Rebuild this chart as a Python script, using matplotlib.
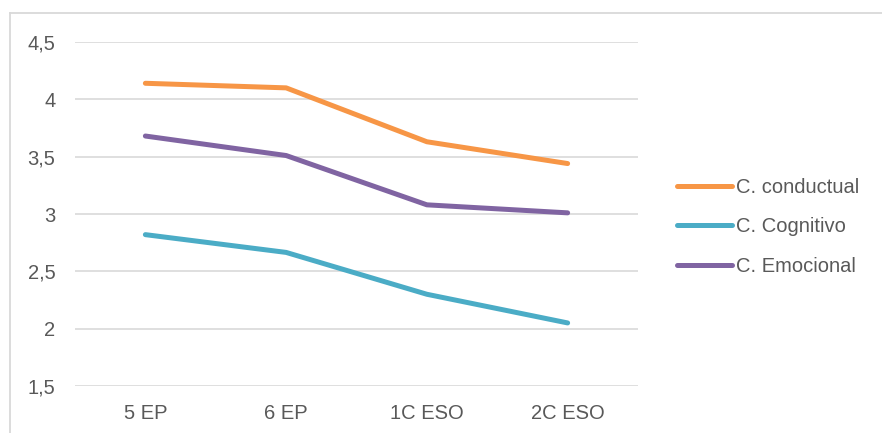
import matplotlib
matplotlib.use("Agg")
import matplotlib.pyplot as plt
from matplotlib.lines import Line2D

plt.rcParams['font.family'] = ['Liberation Sans', 'DejaVu Sans']

categories = ["5 EP", "6 EP", "1C ESO", "2C ESO"]
conductual = [4.14, 4.10, 3.63, 3.44]
cognitivo = [2.82, 2.665, 2.30, 2.05]
emocional = [3.68, 3.51, 3.08, 3.01]
series_names = ["C. conductual", "C. Cognitivo", "C. Emocional"]
yticks = [1.5, 2.0, 2.5, 3.0, 3.5, 4.0, 4.5]
ytick_labels = ["1,5", "2", "2,5", "3", "3,5", "4", "4,5"]

colors = ["#F79646", "#4BACC6", "#8064A2"]
text_color = "#595959"
grid_color = "#D9D9D9"
fs = 14.5

W, H = 882, 433
fig = plt.figure(figsize=(W / 100, H / 100), dpi=100)
ax = fig.add_axes([75 / W, 1 - 386 / H, (638 - 75) / W, (386 - 42) / H])

x = list(range(len(categories)))
for vals, name, c in zip([conductual, cognitivo, emocional], series_names, colors):
    ax.plot(x, vals, color=c, lw=3.6, solid_capstyle='round',
            solid_joinstyle='round', label=name)

ax.set_xlim(-0.5, len(categories) - 0.5)
ax.set_ylim(1.5, 4.5)
ax.set_yticks(yticks)
ax.set_yticklabels(ytick_labels)
ax.set_xticks(x)
ax.set_xticklabels(categories)
ax.tick_params(axis='x', length=0, labelsize=fs, colors=text_color, pad=13)
ax.tick_params(axis='y', length=0, labelsize=fs, colors=text_color, pad=14)
ax.grid(axis='y', color=grid_color, lw=1.2)
ax.set_axisbelow(True)
for s in ax.spines.values():
    s.set_visible(False)

handles = [Line2D([], [], color=c, lw=3.6, solid_capstyle='round') for c in colors]
fig.legend(handles, series_names, loc='center left',
           bbox_to_anchor=(677 / W, 1 - 226.7 / H), frameon=False,
           fontsize=fs, labelcolor=text_color, handlelength=2.75,
           handletextpad=0.2, labelspacing=1.02, borderpad=0, borderaxespad=0)

# chart area frame (top and left edges)
fig.add_artist(Line2D([10 / W, 10 / W], [0, 1 - 13 / H], color=grid_color, lw=1.3,
                      transform=fig.transFigure))
fig.add_artist(Line2D([10 / W, 1], [1 - 13 / H, 1 - 13 / H], color=grid_color, lw=1.3,
                      transform=fig.transFigure))

fig.savefig("out.png", dpi=100, facecolor="white")
